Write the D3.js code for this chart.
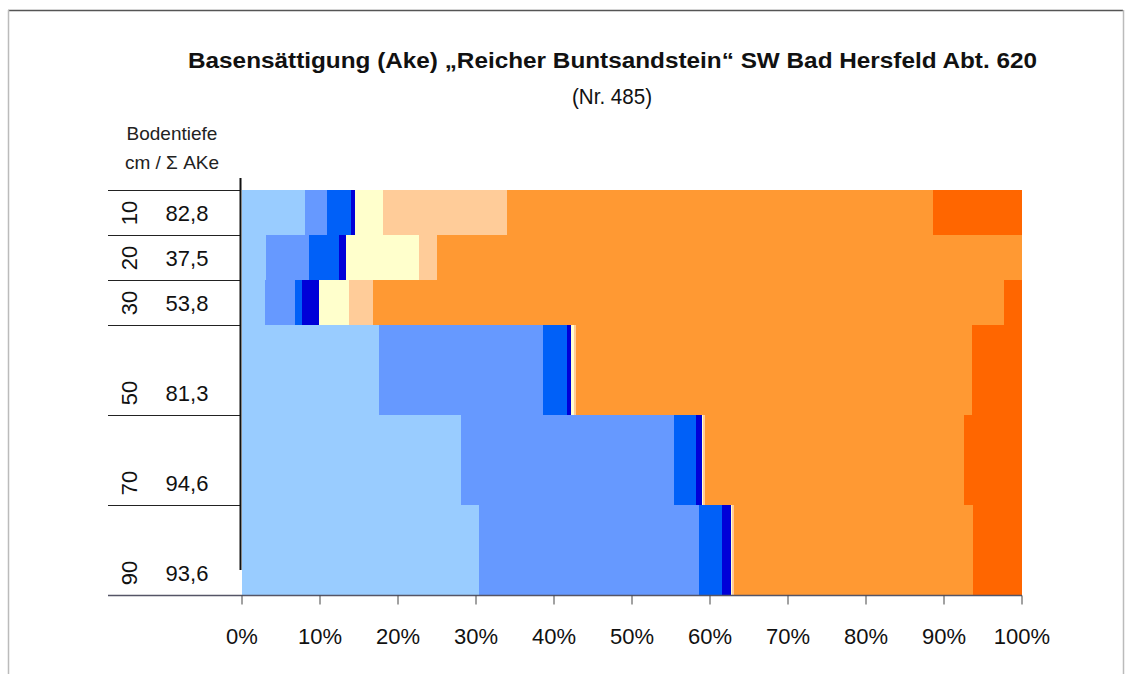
<!DOCTYPE html>
<html>
<head>
<meta charset="utf-8">
<script src="https://cdn.jsdelivr.net/npm/d3@7"></script>
<style>
  html, body { margin: 0; padding: 0; background: #fff; }
  svg { display: block; font-family: "Liberation Sans", Arial, sans-serif; }
</style>
</head>
<body>
<svg id="chart" width="1126" height="674"></svg>
<script>
// ---- data ----
const depthTop    = [0, 10, 20, 30, 50, 70];
const depthBottom = [10, 20, 30, 50, 70, 90];
const depthLabels = ["10", "20", "30", "50", "70", "90"];
const akeSum      = ["82,8", "37,5", "53,8", "81,3", "94,6", "93,6"];
const seriesKeys  = ["s1", "s2", "s3", "s4", "s5", "s6", "s7", "s8"];
const seriesColors = ["#99CCFF", "#6699FF", "#0060F8", "#0000D8", "#FFFFCC", "#FFCC99", "#FF9933", "#FF6600"];
const s1 = [8.1, 3.2, 3.0, 17.6, 28.2, 30.4];
const s2 = [2.9, 5.5, 3.9, 21.0, 27.2, 28.2];
const s3 = [3.0, 3.8, 0.8, 3.1, 2.9, 3.0];
const s4 = [0.5, 0.9, 2.2, 0.6, 0.7, 1.1];
const s5 = [3.7, 9.4, 3.9, 0.3, 0.2, 0.2];
const s6 = [15.8, 2.2, 3.1, 0.3, 0.2, 0.3];
const s7 = [54.6, 75.0, 80.8, 50.7, 33.2, 30.6];
const s8 = [11.4, 0.0, 2.3, 6.4, 7.4, 6.2];
const xTicks = [0, 10, 20, 30, 40, 50, 60, 70, 80, 90, 100];
const titleText = "Basensättigung (Ake) „Reicher Buntsandstein“ SW Bad Hersfeld Abt. 620";
const subtitleText = "(Nr. 485)";

// ---- build ----
const seriesValues = [s1, s2, s3, s4, s5, s6, s7, s8];
const rows = depthTop.map((t, i) => {
  const r = { top: t, bottom: depthBottom[i] };
  seriesKeys.forEach((k, j) => r[k] = seriesValues[j][i]);
  return r;
});

const svg = d3.select("#chart");
const W = 1126, H = 674;
const x = d3.scaleLinear().domain([0, 100]).range([241.5, 1021.5]);
const y = d3.scaleLinear().domain([0, 90]).range([190, 595]);

// frame
svg.append("line").attr("x1", 8).attr("x2", 1123).attr("y1", 10.5).attr("y2", 10.5)
  .attr("stroke", "#555").attr("stroke-width", 1.5);
svg.append("line").attr("x1", 8.5).attr("x2", 8.5).attr("y1", 10).attr("y2", H)
  .attr("stroke", "#bbb").attr("stroke-width", 1.5);
svg.append("line").attr("x1", 1123.5).attr("x2", 1123.5).attr("y1", 10).attr("y2", H)
  .attr("stroke", "#bbb").attr("stroke-width", 1.5);

// title
svg.append("text").attr("x", 612.5).attr("y", 68).attr("text-anchor", "middle")
  .attr("font-size", 22).attr("font-weight", "bold").attr("fill", "#111")
  .attr("textLength", 849).attr("lengthAdjust", "spacingAndGlyphs")
  .text(titleText);
svg.append("text").attr("x", 612).attr("y", 104).attr("text-anchor", "middle")
  .attr("font-size", 22).attr("fill", "#111")
  .attr("textLength", 80).attr("lengthAdjust", "spacingAndGlyphs")
  .text(subtitleText);

// stacked bars
const stack = d3.stack().keys(seriesKeys);
const stacked = stack(rows);
const g = svg.append("g");
stacked.forEach((layer, j) => {
  g.selectAll(null).data(layer).enter().append("rect")
    .attr("x", d => x(d[0]))
    .attr("width", d => Math.max(0, x(d[1]) - x(d[0])))
    .attr("y", d => y(d.data.top))
    .attr("height", d => y(d.data.bottom) - y(d.data.top))
    .attr("fill", seriesColors[j])
    .attr("shape-rendering", "crispEdges");
});

// left header
svg.append("text").attr("x", 172).attr("y", 140).attr("text-anchor", "middle")
  .attr("font-size", 19).attr("fill", "#222").text("Bodentiefe");
svg.append("text").attr("x", 172).attr("y", 169).attr("text-anchor", "middle")
  .attr("font-size", 19).attr("fill", "#222").text("cm / Σ AKe");

// left separators
const boundaries = [0].concat(depthBottom);
svg.selectAll(null).data(boundaries).enter().append("line")
  .attr("x1", 108).attr("x2", 241)
  .attr("y1", d => Math.round(y(d)) + 0.5).attr("y2", d => Math.round(y(d)) + 0.5)
  .attr("stroke", "#222").attr("stroke-width", 1);

// left vertical axis line
svg.append("line").attr("x1", 240.5).attr("x2", 240.5).attr("y1", 178).attr("y2", 570)
  .attr("stroke", "#111").attr("stroke-width", 2);

// row labels
depthBottom.forEach((b, i) => {
  const cy = y(b) - 22;
  svg.append("text")
    .attr("transform", `translate(129,${cy}) rotate(-90)`)
    .attr("text-anchor", "middle").attr("dy", "0.35em")
    .attr("font-size", 22).attr("fill", "#111").text(depthLabels[i]);
  svg.append("text")
    .attr("x", 187).attr("y", cy).attr("dy", "0.35em")
    .attr("text-anchor", "middle")
    .attr("font-size", 22).attr("fill", "#111").text(akeSum[i]);
});

// x axis
const xAxis = d3.axisBottom(x).tickValues(xTicks).tickFormat(d => d + "%").tickSize(9).tickPadding(24);
const ax = svg.append("g").attr("transform", "translate(0,595.5)").call(xAxis);
ax.select(".domain").attr("stroke", "#556").attr("stroke-width", 1.5).attr("d", "M108,0H1022");
ax.selectAll(".tick line").attr("stroke", "#444");
ax.selectAll(".tick text").attr("font-size", 22).attr("fill", "#111")
  .attr("font-family", "Liberation Sans, Arial, sans-serif");
</script>
</body>
</html>
